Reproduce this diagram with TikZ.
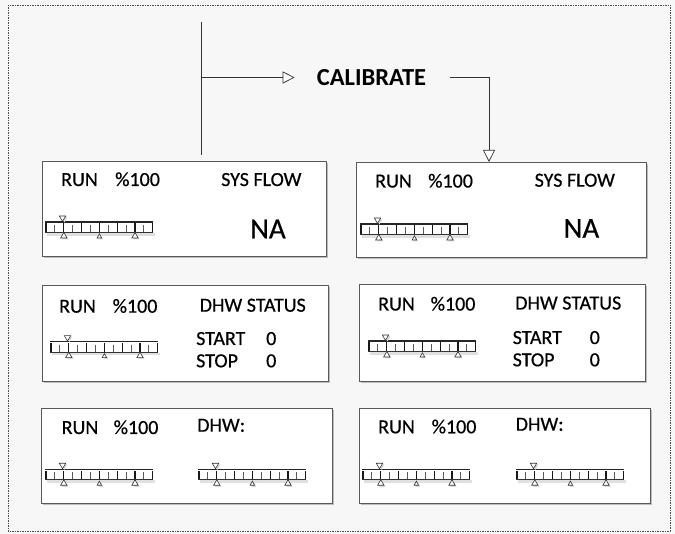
\documentclass[tikz,border=0pt]{standalone}
\usepackage{fontspec}
\setmainfont{Carlito}
\newfontfamily\calfont{Carlito}[RawFeature={embolden=0.5}]
\usetikzlibrary{arrows.meta,shadows}
\begin{document}
\begin{tikzpicture}[x=1pt,y=-1pt,
  panel/.style={draw=black!65, line width=0.8pt, fill=white, inner sep=0pt, outer sep=0pt, anchor=north west,
    drop shadow={shadow xshift=1.8pt, shadow yshift=-1.8pt, fill=black!40, opacity=0.6}},
  txt/.style={anchor=base west, inner sep=0pt, font=\calfont\fontsize{20}{24}\selectfont, text=black},
  bigtxt/.style={anchor=base west, inner sep=0pt, font=\calfont\fontsize{29}{33}\selectfont, text=black},
  conn/.style={draw=black!80, line width=0.8pt},
  opentip/.style={-{Triangle[length=12pt,width=12pt,fill=white,line width=0.7pt]}},
  scalebar/.pic={
    \fill[black!12] (2,11) rectangle (110,13.8);
    \draw[line width=1.3pt, black!85] (0,0) -- (108,0);
    \foreach \i in {0,...,12}{
      \ifodd\i
        \draw[black!65, line width=0.9pt] ({1+8.9*\i},3) -- ({1+8.9*\i},10);
      \else
        \draw[black!90, line width=1.1pt] ({1+8.9*\i},1.5) -- ({1+8.9*\i},10);
      \fi
    }
    \draw[black!80, line width=0.8pt] (0,10.5) -- (108,10.5);
    \fill[black!15] (16.5,-5) -- (22.5,-5) -- (19.5,0.5) -- cycle;
    \draw[black!80, line width=0.6pt, fill=white] (14.3,-6) -- (20.7,-6) -- (17.5,-0.6) -- cycle;
    \foreach \c/\w/\h in {18.8/3.2/5.5, 54.4/2.3/4.2, 90/3.2/5.5}{
      \fill[black!15] ({\c-\w+1.5},{16+1.5}) -- ({\c+\w+1.5},{16+1.5}) -- ({\c+1.5},{16-\h+1.5}) -- cycle;
      \draw[black!80, line width=0.6pt, fill=white] ({\c-\w},16) -- ({\c+\w},16) -- (\c,{16-\h}) -- cycle;
    }
  }
]
\useasboundingbox (0,0) rectangle (675,534);
\fill[black!3] (0,0) rectangle (675,534);
\draw[black!70, line width=0.6pt, dash pattern=on 1.5pt off 1pt] (8,5) rectangle (670,531);

% panels
\node[panel, minimum width=284pt, minimum height=95pt] (p1) at (42,161) {};
\node[panel, minimum width=290pt, minimum height=95pt] (p2) at (356,162) {};
\node[panel, minimum width=286pt, minimum height=96.5pt] (p3) at (42,285) {};
\node[panel, minimum width=286pt, minimum height=97pt] (p4) at (359,284) {};
\node[panel, minimum width=291pt, minimum height=95pt] (p5) at (41,408) {};
\node[panel, minimum width=291pt, minimum height=95pt] (p6) at (359,408) {};

% row 1
\node[txt] (r1a) at (61,186) {RUN};
\node[txt] (r1b) at (115,186) {\%100};
\node[txt] (r1c) at (221,186) {SYS FLOW};
\node[bigtxt] (r1d) at (250,238.3) {NA};
\pic at (45,222) {scalebar};
\node[txt] (r2a) at (375,187.5) {RUN};
\node[txt] (r2b) at (428,187.5) {\%100};
\node[txt] (r2c) at (534.5,186.7) {SYS FLOW};
\node[bigtxt] (r2d) at (563.5,237.7) {NA};
\pic at (360,224) {scalebar};

% row 2
\node[txt] (r3a) at (59,312.7) {RUN};
\node[txt] (r3b) at (112.5,312.7) {\%100};
\node[txt] (r3c) at (199.5,311.7) {DHW STATUS};
\node[txt] (r3d) at (196,345) {START};
\node[txt] (r3e) at (266,345) {0};
\node[txt] (r3f) at (196,367.3) {STOP};
\node[txt] (r3g) at (266,367.3) {0};
\pic at (50,341.7) {scalebar};
\node[txt] (r4a) at (378,310.5) {RUN};
\node[txt] (r4b) at (430.5,310.5) {\%100};
\node[txt] (r4c) at (515,309.5) {DHW STATUS};
\node[txt] (r4d) at (512.5,344) {START};
\node[txt] (r4e) at (589.5,344) {0};
\node[txt] (r4f) at (512.5,366.3) {STOP};
\node[txt] (r4g) at (589.5,366.3) {0};
\pic at (368,341) {scalebar};

% row 3
\node[txt] (r5a) at (61.5,434) {RUN};
\node[txt] (r5b) at (113.5,434) {\%100};
\node[txt] (r5c) at (197,431.7) {DHW:};
\pic at (45,469.3) {scalebar};
\pic at (198,469.3) {scalebar};
\node[txt] (r6a) at (378,433.3) {RUN};
\node[txt] (r6b) at (431.5,433.3) {\%100};
\node[txt] (r6c) at (515.5,430.7) {DHW:};
\pic at (362,469.3) {scalebar};
\pic at (516,469.3) {scalebar};

% top connectors
\coordinate (top) at (201,21.7);
\coordinate (jn) at (201,77.5);
\coordinate (kx) at (489,0);
\node[inner sep=0pt, font=\bfseries\fontsize{24.5}{28}\selectfont, text=black] (cal) at (371.5,77.5) {CALIBRATE};
\draw[conn, shorten >=5.5pt] (top) -- (top |- p1.north);
\draw[conn, opentip, shorten >=22pt] (jn) -- (jn -| cal.west);
\draw[conn, opentip, shorten <=24pt] (cal.east |- jn) -| (kx |- p2.north);
\end{tikzpicture}
\end{document}
